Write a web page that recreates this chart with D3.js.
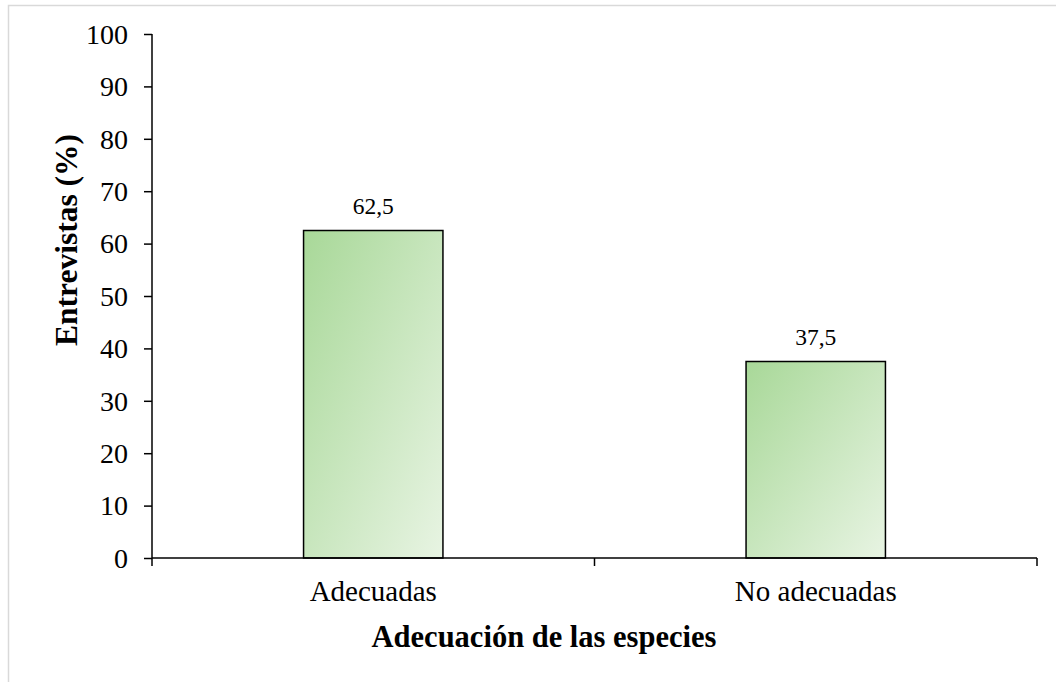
<!DOCTYPE html>
<html><head><meta charset="utf-8">
<script src="https://cdn.jsdelivr.net/npm/d3@7"></script>
<style>body{margin:0;background:#fff}svg{display:block}text{font-family:"Liberation Serif","Times New Roman",serif;fill:#000}</style>
</head><body>
<script>
const categories = ["Adecuadas", "No adecuadas"];
const values = [62.5, 37.5];
const valueLabels = ["62,5", "37,5"];
const yTicks = [0,10,20,30,40,50,60,70,80,90,100];
const xTitle = "Adecuación de las especies";
const yTitle = "Entrevistas (%)";

(function () {
const W = 1056, H = 682;
const svg = d3.select("body").append("svg").attr("width", W).attr("height", H);
svg.append("rect").attr("x", 8.5).attr("y", 5.5).attr("width", W).attr("height", H)
  .attr("fill", "#fff").attr("stroke", "#d9d9d9").attr("stroke-width", 1.5);

const defs = svg.append("defs");
const g = defs.append("linearGradient").attr("id", "grad")
  .attr("x1", "0").attr("y1", "0").attr("x2", "1").attr("y2", "1");
g.append("stop").attr("offset", "0").attr("stop-color", "#a8d898");
g.append("stop").attr("offset", "1").attr("stop-color", "#e8f4e3");

const mLeft = 152, mRight = 1037, mTop = 34, mBottom = 558;
const x = d3.scaleBand().domain(categories).range([mLeft, mRight]).padding(0);
const y = d3.scaleLinear().domain([0, 100]).range([mBottom, mTop]);
const barW = x.bandwidth() * 0.315;

svg.selectAll("rect.bar").data(values).enter().append("rect").attr("class", "bar")
  .attr("x", (d, i) => x(categories[i]) + x.bandwidth() / 2 - barW / 2)
  .attr("y", d => y(d))
  .attr("width", barW)
  .attr("height", d => y(0) - y(d))
  .attr("fill", "url(#grad)").attr("stroke", "#000").attr("stroke-width", 1.5);

svg.selectAll("text.val").data(values).enter().append("text").attr("class", "val")
  .attr("x", (d, i) => x(categories[i]) + x.bandwidth() / 2)
  .attr("y", d => y(d) - 17)
  .attr("text-anchor", "middle").attr("font-size", 23.5)
  .text((d, i) => valueLabels[i]);

const yAxis = svg.append("g").attr("transform", `translate(${mLeft},0)`)
  .call(d3.axisLeft(y).tickValues(yTicks).tickSize(8).tickPadding(16).tickFormat(d3.format("d")));
yAxis.select(".domain").attr("stroke", "#000").attr("stroke-width", 1.5).attr("d", `M0,${mTop}V${mBottom}`);
yAxis.selectAll(".tick line").attr("stroke", "#000").attr("stroke-width", 1.5);
yAxis.selectAll(".tick text").attr("font-size", 28).attr("dy", "0.33em").attr("fill", "#000");

const xAxis = svg.append("g").attr("transform", `translate(0,${mBottom})`);
xAxis.append("line").attr("x1", mLeft).attr("x2", mRight).attr("y1", 0).attr("y2", 0)
  .attr("stroke", "#000").attr("stroke-width", 1.5);
const xBoundaries = [mLeft, ...categories.map(c => x(c) + x.bandwidth())];
xAxis.selectAll("line.tk").data(xBoundaries).enter().append("line").attr("class", "tk")
  .attr("x1", d => d).attr("x2", d => d).attr("y1", 0).attr("y2", 8)
  .attr("stroke", "#000").attr("stroke-width", 1.5);
xAxis.selectAll("text.cat").data(categories).enter().append("text").attr("class", "cat")
  .attr("x", d => x(d) + x.bandwidth() / 2).attr("y", 43)
  .attr("text-anchor", "middle").attr("font-size", 29).text(d => d);

svg.append("text").attr("x", 544).attr("y", 647)
  .attr("text-anchor", "middle").attr("font-size", 30.5).attr("font-weight", "bold").text(xTitle);
svg.append("text").attr("transform", `translate(77,240) rotate(-90)`)
  .attr("text-anchor", "middle").attr("font-size", 31.5).attr("font-weight", "bold").text(yTitle);
})();
</script>
</body></html>
